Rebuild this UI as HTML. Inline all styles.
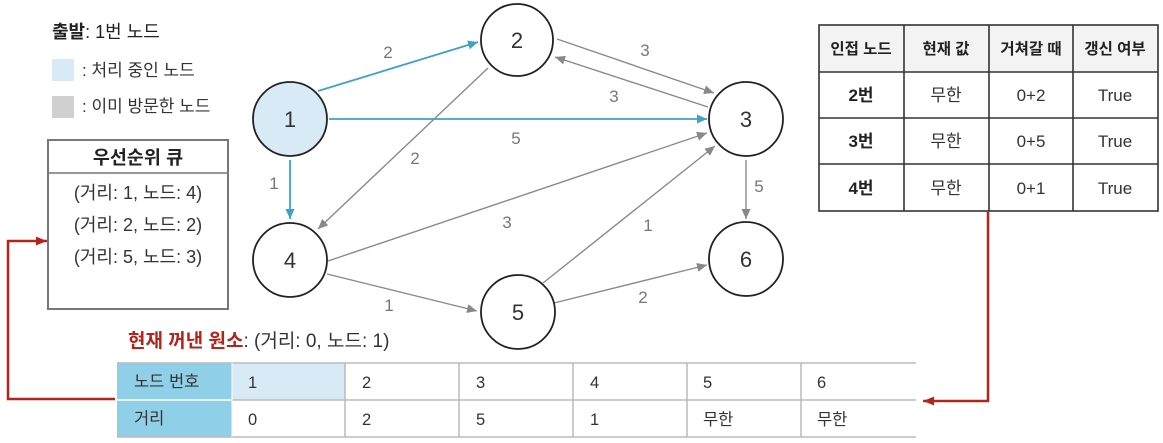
<!DOCTYPE html>
<html><head><meta charset="utf-8"><style>
html,body{margin:0;padding:0;background:#fff;}
svg{display:block;}
text{font-family:"Liberation Sans","Noto Sans CJK KR",sans-serif;}
</style></head><body>
<svg width="1163" height="443" viewBox="0 0 1163 443" xmlns="http://www.w3.org/2000/svg">
<defs>
<marker id="ab" viewBox="0 0 10 10" refX="10" refY="5" markerWidth="10" markerHeight="10" markerUnits="userSpaceOnUse" orient="auto"><path d="M0,0.5 L10,5 L0,9.5 z" fill="#3ba3c6"/></marker>
<marker id="ag" viewBox="0 0 10 10" refX="10" refY="5" markerWidth="10" markerHeight="10" markerUnits="userSpaceOnUse" orient="auto"><path d="M0,0.5 L10,5 L0,9.5 z" fill="#888"/></marker>
<marker id="ar" viewBox="0 0 10 10" refX="10" refY="5" markerWidth="11" markerHeight="11" markerUnits="userSpaceOnUse" orient="auto"><path d="M0,1 L10,5 L0,9 z" fill="#b5231b"/></marker>
</defs>

<!-- Legend -->
<text x="52" y="38" font-size="18" fill="#222"><tspan font-weight="bold">출발</tspan>: 1번 노드</text>
<rect x="52" y="59" width="22" height="22" fill="#d8eaf6"/>
<text x="82" y="76" font-size="17" fill="#333">: 처리 중인 노드</text>
<rect x="52" y="96" width="22" height="22" fill="#d0d0d0"/>
<text x="82" y="112" font-size="17" fill="#333">: 이미 방문한 노드</text>

<!-- Priority queue box -->
<rect x="48" y="140" width="180" height="169" fill="#fff" stroke="#777" stroke-width="2"/>
<line x1="48" y1="173" x2="228" y2="173" stroke="#777" stroke-width="1.5"/>
<text x="138" y="164" font-size="18.5" font-weight="bold" text-anchor="middle" fill="#222">우선순위 큐</text>
<text x="138" y="199" font-size="18" text-anchor="middle" fill="#333">(거리: 1, 노드: 4)</text>
<text x="138" y="231" font-size="18" text-anchor="middle" fill="#333">(거리: 2, 노드: 2)</text>
<text x="138" y="263" font-size="18" text-anchor="middle" fill="#333">(거리: 5, 노드: 3)</text>

<!-- Edges blue -->
<g stroke="#3ba3c6" stroke-width="1.8" fill="none">
<line x1="318" y1="91" x2="478" y2="42" marker-end="url(#ab)"/>
<line x1="329" y1="119" x2="707" y2="119" marker-end="url(#ab)"/>
<line x1="290" y1="160" x2="290" y2="219" marker-end="url(#ab)"/>
</g>
<!-- Edges gray -->
<g stroke="#8a8a8a" stroke-width="1.4" fill="none">
<line x1="488" y1="68" x2="318" y2="229" marker-end="url(#ag)"/>
<line x1="557" y1="39" x2="714" y2="93" marker-end="url(#ag)"/>
<line x1="708" y1="107" x2="555" y2="57" marker-end="url(#ag)"/>
<line x1="328" y1="261" x2="707" y2="133" marker-end="url(#ag)"/>
<line x1="543" y1="283" x2="715" y2="146" marker-end="url(#ag)"/>
<line x1="327" y1="274" x2="477" y2="311" marker-end="url(#ag)"/>
<line x1="554" y1="303" x2="707" y2="265" marker-end="url(#ag)"/>
<line x1="746" y1="160" x2="746" y2="219" marker-end="url(#ag)"/>
</g>

<!-- Edge labels -->
<g font-size="17" fill="#777" text-anchor="middle">
<text x="388" y="58">2</text>
<text x="516" y="144">5</text>
<text x="274" y="189">1</text>
<text x="415" y="164">2</text>
<text x="645" y="56">3</text>
<text x="614" y="102">3</text>
<text x="507" y="228">3</text>
<text x="648" y="231">1</text>
<text x="389" y="311">1</text>
<text x="643" y="303">2</text>
<text x="759" y="192">5</text>
</g>

<!-- Nodes -->
<g stroke="#222" stroke-width="1.8">
<circle cx="290" cy="119" r="37" fill="#d8eaf6"/>
<circle cx="517" cy="40" r="36" fill="#fff"/>
<circle cx="746" cy="119" r="37" fill="#fff"/>
<circle cx="290" cy="260" r="37" fill="#fff"/>
<circle cx="518" cy="312" r="37" fill="#fff"/>
<circle cx="746" cy="259" r="37" fill="#fff"/>
</g>
<g font-size="22" fill="#333" text-anchor="middle">
<text x="290" y="127">1</text>
<text x="517" y="48">2</text>
<text x="746" y="127">3</text>
<text x="290" y="268">4</text>
<text x="518" y="320">5</text>
<text x="746" y="267">6</text>
</g>

<!-- Right table -->
<rect x="819" y="25" width="339" height="47" fill="#f3f3f3"/>
<g stroke="#333" stroke-width="1.6" fill="none">
<rect x="819" y="25" width="339" height="186"/>
<line x1="819" y1="72" x2="1158" y2="72"/>
<line x1="819" y1="118" x2="1158" y2="118"/>
<line x1="819" y1="164" x2="1158" y2="164"/>
<line x1="904" y1="25" x2="904" y2="211"/>
<line x1="989" y1="25" x2="989" y2="211"/>
<line x1="1073" y1="25" x2="1073" y2="211"/>
</g>
<g font-size="15.5" font-weight="bold" fill="#222" text-anchor="middle">
<text x="861" y="54">인접 노드</text>
<text x="946" y="54">현재 값</text>
<text x="1031" y="54">거쳐갈 때</text>
<text x="1115" y="54">갱신 여부</text>
</g>
<g font-size="17" fill="#333" text-anchor="middle">
<text x="861" y="101" font-weight="bold" fill="#222">2번</text>
<text x="946" y="101">무한</text>
<text x="1031" y="101">0+2</text>
<text x="1115" y="101">True</text>
<text x="861" y="147" font-weight="bold" fill="#222">3번</text>
<text x="946" y="147">무한</text>
<text x="1031" y="147">0+5</text>
<text x="1115" y="147">True</text>
<text x="861" y="194" font-weight="bold" fill="#222">4번</text>
<text x="946" y="194">무한</text>
<text x="1031" y="194">0+1</text>
<text x="1115" y="194">True</text>
</g>

<!-- Current element label -->
<text x="128" y="347" font-size="19" fill="#333"><tspan fill="#b5231b" font-weight="bold">현재 꺼낸 원소</tspan>: (거리: 0, 노드: 1)</text>

<!-- Bottom table -->
<rect x="117" y="363" width="115" height="74" fill="#8fd0e8"/>
<rect x="232" y="363" width="113" height="37" fill="#d8eaf6"/>
<g stroke="#bbb" stroke-width="1.5" fill="none">
<line x1="117" y1="363" x2="916" y2="363"/>
<line x1="117" y1="400" x2="916" y2="400"/>
<line x1="117" y1="437" x2="916" y2="437"/>
<line x1="345" y1="363" x2="345" y2="437"/>
<line x1="459" y1="363" x2="459" y2="437"/>
<line x1="573" y1="363" x2="573" y2="437"/>
<line x1="687" y1="363" x2="687" y2="437"/>
<line x1="801" y1="363" x2="801" y2="437"/>
</g>
<line x1="117" y1="400" x2="232" y2="400" stroke="#fff" stroke-width="1.5"/>
<line x1="232" y1="363" x2="232" y2="437" stroke="#fff" stroke-width="1"/>
<g font-size="16.5" fill="#333">
<text x="134" y="387">노드 번호</text>
<text x="134" y="424">거리</text>
<text x="248" y="388">1</text>
<text x="362" y="388">2</text>
<text x="476" y="388">3</text>
<text x="590" y="388">4</text>
<text x="703" y="388">5</text>
<text x="817" y="388">6</text>
<text x="248" y="425">0</text>
<text x="362" y="425">2</text>
<text x="476" y="425">5</text>
<text x="590" y="425">1</text>
<text x="703" y="425">무한</text>
<text x="817" y="425">무한</text>
</g>

<!-- Red connectors -->
<polyline points="115,399 8,399 8,241 47,241" fill="none" stroke="#b5231b" stroke-width="2.5" marker-end="url(#ar)"/>
<polyline points="988,211 988,401 923,401" fill="none" stroke="#b5231b" stroke-width="2.5" marker-end="url(#ar)"/>
</svg>
</body></html>
